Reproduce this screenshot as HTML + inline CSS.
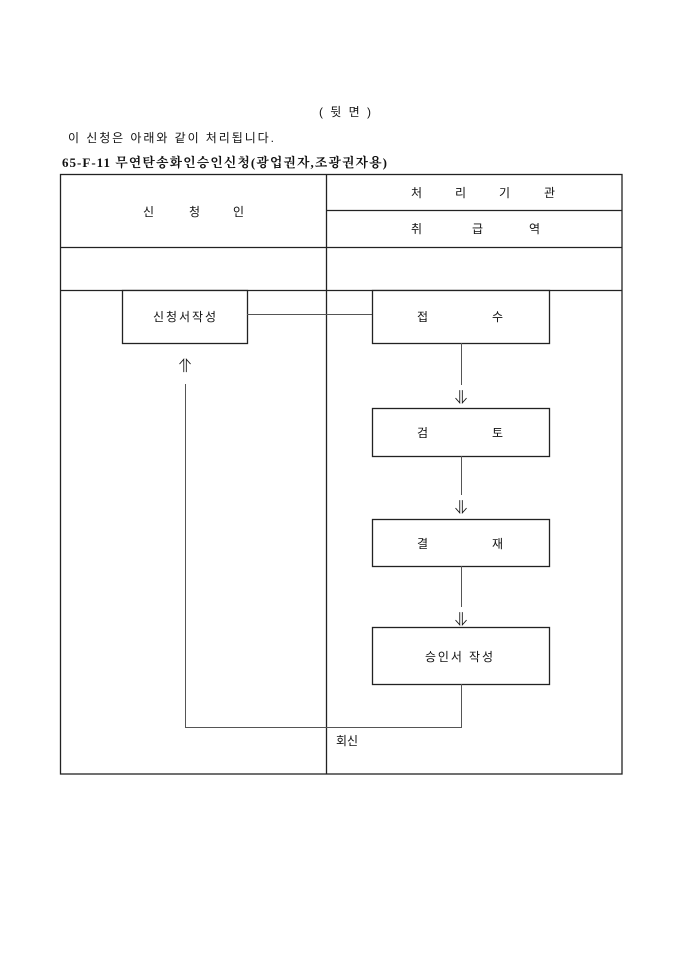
<!DOCTYPE html>
<html><head><meta charset="utf-8">
<style>
html,body{margin:0;padding:0;background:#fff;width:680px;height:962px;overflow:hidden}
svg text{font-family:"Liberation Sans","Noto Sans CJK KR","NanumGothic",sans-serif;fill:#111}
</style></head><body>
<svg width="680" height="962" viewBox="0 0 680 962" xmlns="http://www.w3.org/2000/svg">
<text x="319" y="116" font-size="12" textLength="52">( 뒷 면 )</text>
<text x="68" y="142" font-size="12" textLength="206">이 신청은 아래와 같이 처리됩니다.</text>
<text x="62" y="167" font-size="13" font-weight="bold" style='font-family:"Liberation Serif","Noto Serif CJK SC",serif' textLength="325">65-F-11 무연탄송화인승인신청(광업권자,조광권자용)</text>
<g stroke="#222" fill="none" stroke-width="1.3">
<rect x="60.5" y="174.5" width="561.5" height="599.5"/>
<line x1="326.5" y1="174" x2="326.5" y2="774"/>
<line x1="326" y1="210.5" x2="622" y2="210.5"/>
<line x1="60" y1="247.5" x2="622" y2="247.5"/>
<line x1="60" y1="290.5" x2="622" y2="290.5"/>
<rect x="122.5" y="290.5" width="125" height="53" fill="#fff"/>
<rect x="372.5" y="290.5" width="177" height="53" fill="#fff"/>
<rect x="372.5" y="408.5" width="177" height="48"/>
<rect x="372.5" y="519.5" width="177" height="47"/>
<rect x="372.5" y="627.5" width="177" height="57"/>
</g>
<g stroke="#555" fill="none" stroke-width="1">
<line x1="247" y1="314.5" x2="372" y2="314.5"/>
<line x1="461.5" y1="343" x2="461.5" y2="385"/>
<line x1="461.5" y1="456" x2="461.5" y2="495"/>
<line x1="461.5" y1="566" x2="461.5" y2="607"/>
<polyline points="461.5,684 461.5,727.5 185.5,727.5 185.5,384"/>
</g>
<g font-size="12">
<text x="143" y="216">신</text><text x="189" y="216">청</text><text x="233" y="216">인</text>
<text x="411" y="197">처</text><text x="455" y="197">리</text><text x="499" y="197">기</text><text x="544" y="197">관</text>
<text x="411" y="233">취</text><text x="472" y="233">급</text><text x="529" y="233">역</text>
<text x="153" y="321" textLength="63">신청서작성</text>
<text x="417" y="321">접</text><text x="492" y="321">수</text>
<text x="417" y="437">검</text><text x="492" y="437">토</text>
<text x="417" y="548">결</text><text x="492" y="548">재</text>
<text x="425" y="661" textLength="68">승인서 작성</text>
<text x="336" y="745">회신</text>
</g>
<g font-size="14" text-anchor="middle" font-weight="bold">
<text x="185" y="370">⇑</text>
<text x="461" y="402">⇓</text>
<text x="461" y="512">⇓</text>
<text x="461" y="624">⇓</text>
</g>
</svg>
</body></html>
